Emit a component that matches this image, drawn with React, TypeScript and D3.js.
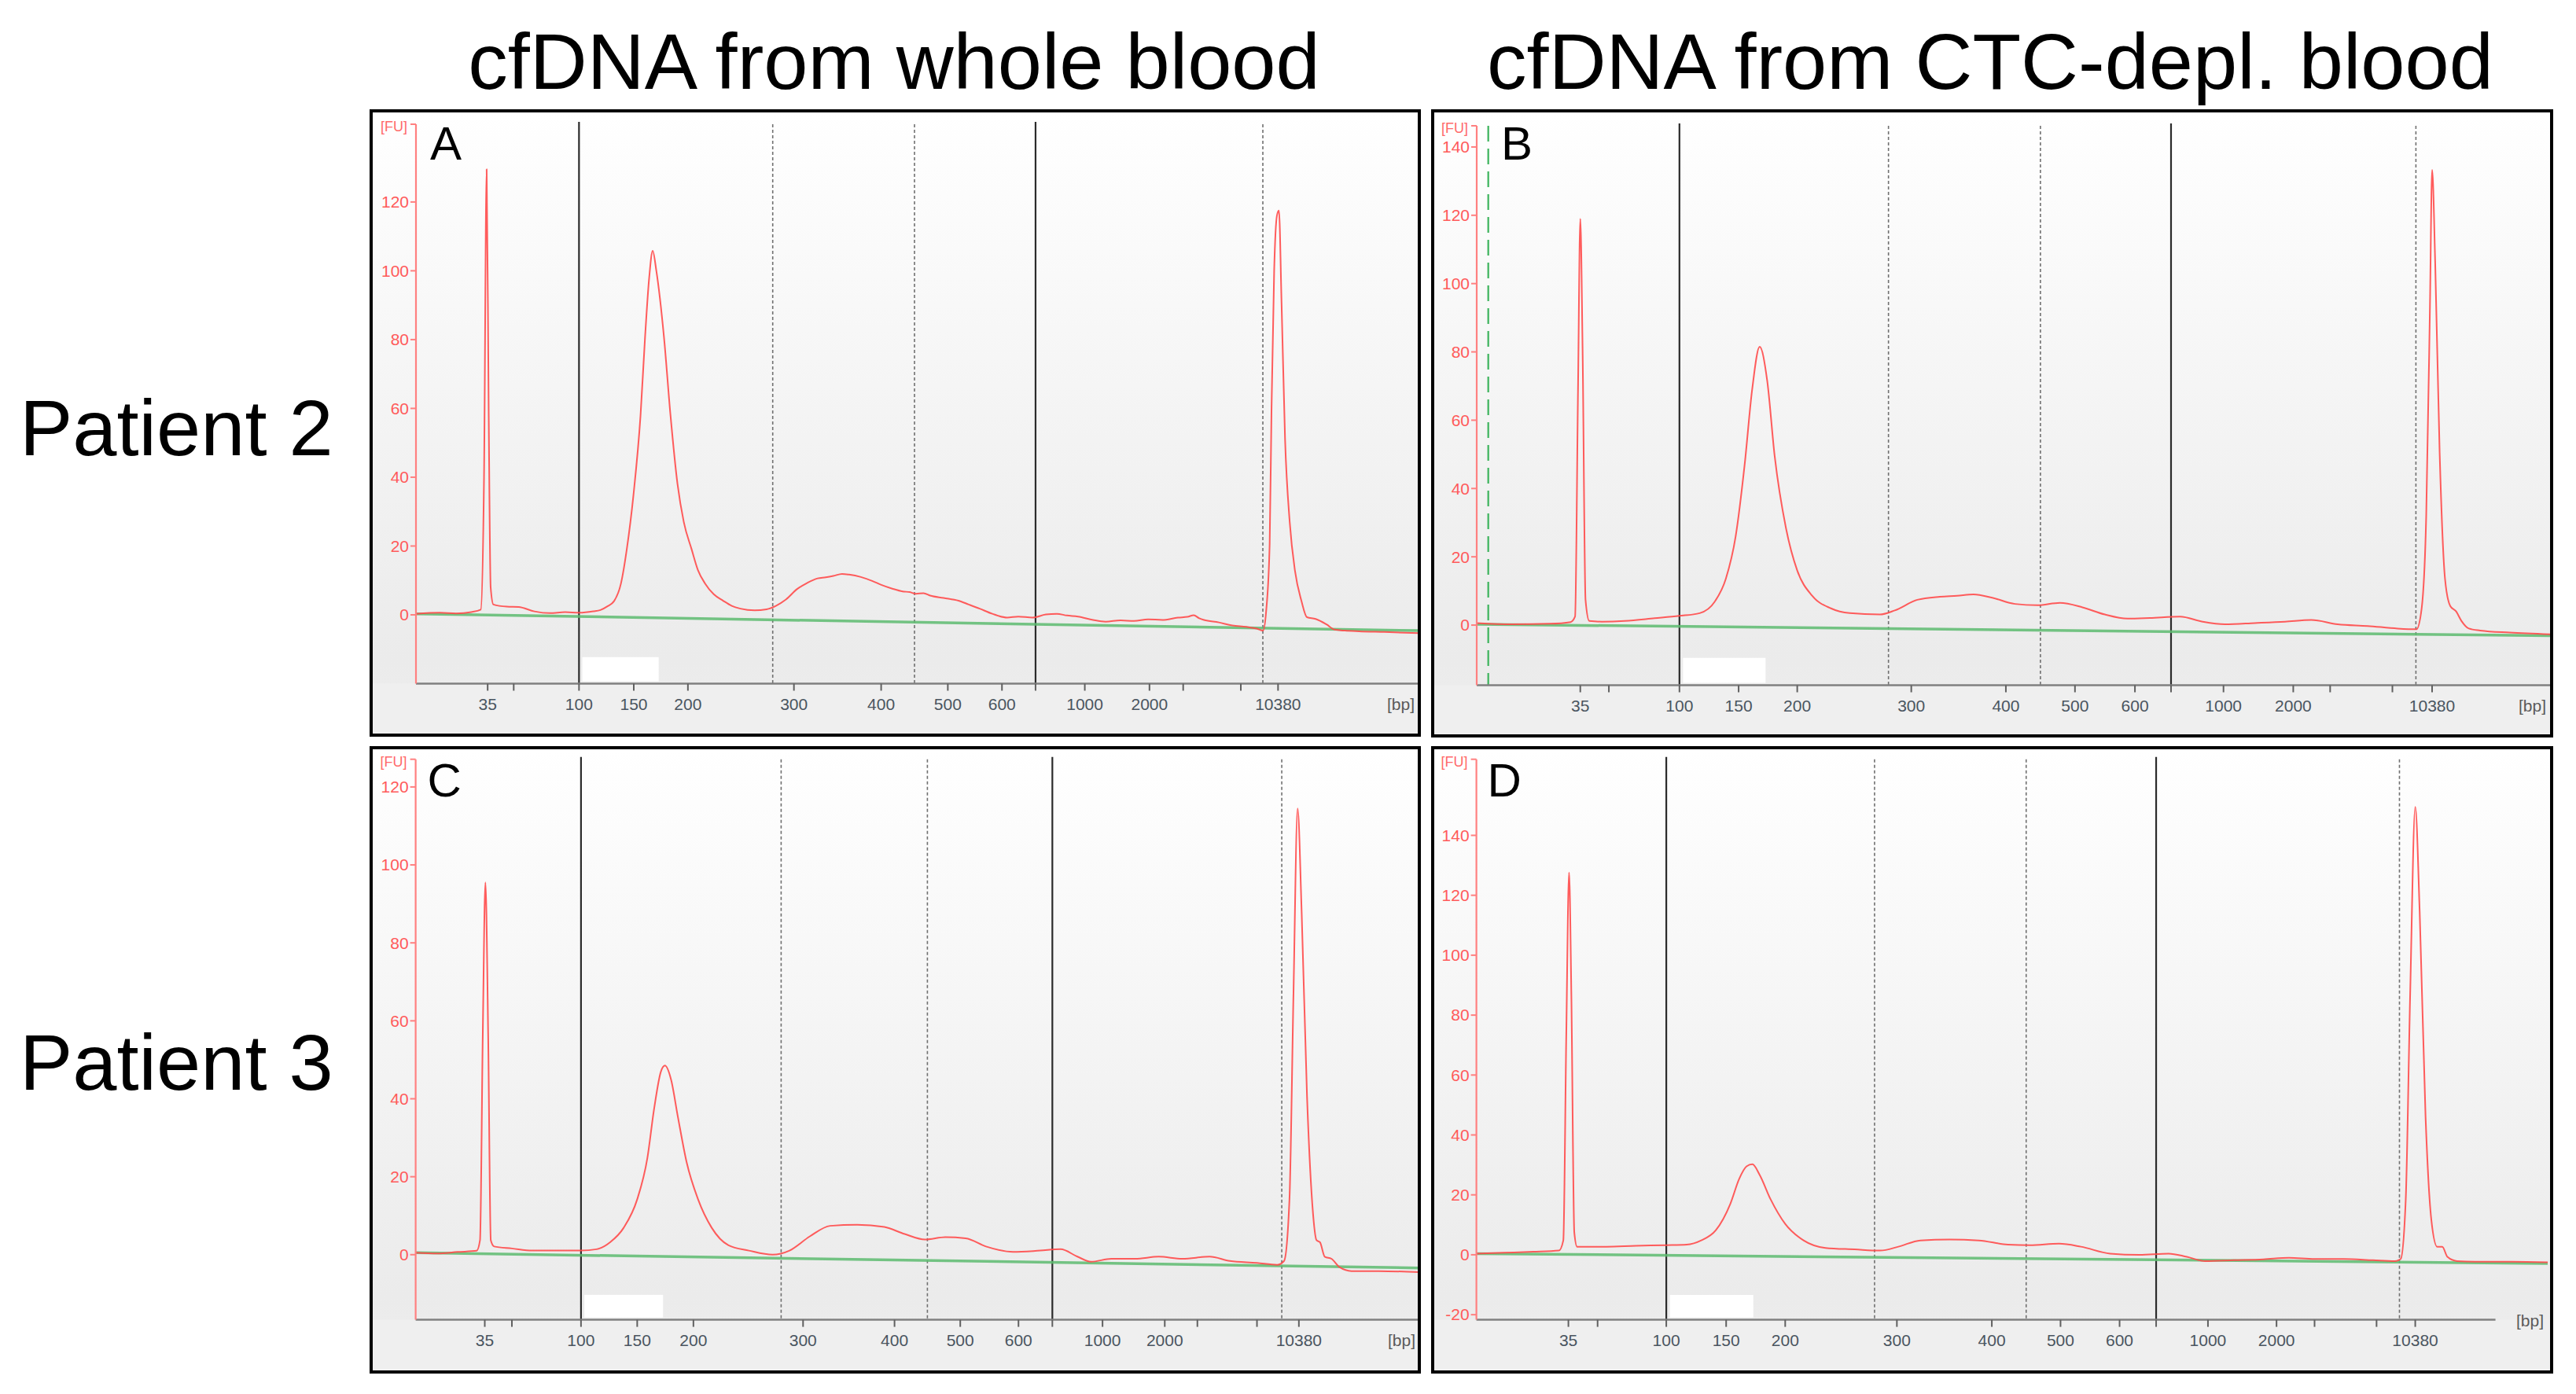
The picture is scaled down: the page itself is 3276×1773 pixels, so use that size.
import * as d3 from 'd3';

// Bioanalyzer HS DNA ladder (bp) and which ladder sizes get a printed label
const LADDER_BP = [35, 50, 100, 150, 200, 300, 400, 500, 600, 700, 1000, 2000, 3000, 7000, 10380];
const LABELED_BP = [35, 100, 150, 200, 300, 400, 500, 600, 1000, 2000, 10380];

// migration time window shown in every panel [s]
const TIME_DOMAIN: [number, number] = [40, 120];

// migration time of each ladder band per run [s]
const ladderTimesA = [45.72, 47.8, 53.01, 57.38, 61.7, 70.16, 77.12, 82.44, 86.76, 89.44, 93.37, 98.53, 101.22, 105.82, 108.79];
const ladderTimesB = [47.72, 49.85, 55.11, 59.52, 63.89, 72.39, 79.44, 84.59, 89.06, 91.75, 95.66, 100.86, 103.61, 108.25, 111.21];
const ladderTimesC = [45.51, 47.67, 53.18, 57.66, 62.14, 70.88, 78.17, 83.41, 88.05, 90.75, 94.75, 99.71, 102.31, 107.06, 110.4];
const ladderTimesD = [46.87, 49.05, 54.18, 58.65, 63.06, 71.4, 78.49, 83.62, 88.03, 90.76, 94.63, 99.75, 102.59, 107.22, 110.11];

// region markers (bp)
const solidMarkersBp = [100, 700];
const dashedMarkersBp = [280, 450, 9000];

// y ticks [FU]
const yTicksA = [0, 20, 40, 60, 80, 100, 120];
const yTicksB = [0, 20, 40, 60, 80, 100, 120, 140];
const yTicksC = [0, 20, 40, 60, 80, 100, 120];
const yTicksD = [-20, 0, 20, 40, 60, 80, 100, 120, 140];

// electropherograms: [time s, FU]
const traceA: [number, number][] = [
  [40, 0.3], [41.91, 0.6], [43.2, 0.4], [44.42, 0.8], [45.17, 1.5], [45.43, 40], [45.64, 129.5], [45.8, 60],
  [45.96, 8], [46.18, 3], [47.25, 2.4], [48.19, 2.3], [49.45, 1.0], [50.7, 0.5], [51.9, 0.8], [53.02, 0.6],
  [54.15, 1.0], [54.72, 1.4], [55.28, 2.5], [55.79, 3.9], [56.35, 9], [56.82, 19], [57.36, 35], [57.92, 58],
  [58.28, 80.7], [58.61, 98], [58.89, 105.8], [59.18, 100], [59.79, 80.7], [60.31, 58], [60.87, 38], [61.37, 27],
  [62.0, 19], [62.5, 13], [63.07, 9.1], [63.76, 6], [64.51, 4.1], [65.2, 2.6], [65.89, 1.8], [67.02, 1.3],
  [67.97, 1.6], [68.72, 2.6], [69.54, 4.5], [70.42, 7.5], [71.23, 9.3], [72.05, 10.6], [72.7, 10.9], [73.3, 11.3],
  [74.0, 11.9], [74.56, 11.7], [75.5, 11.0], [76.44, 9.8], [77.13, 8.7], [78.01, 7.6], [78.83, 6.8], [79.4, 6.6],
  [79.9, 6.1], [80.5, 6.3], [81.03, 5.6], [82.1, 4.9], [83.29, 4.1], [84.11, 3.0], [84.98, 1.8], [85.99, 0.3],
  [87.18, -0.8], [88.06, -0.5], [89.19, -0.8], [90.26, 0.1], [91.14, 0.3], [91.95, -0.2], [92.83, -0.5], [94.03, -1.5],
  [95.03, -2.0], [96.22, -1.6], [97.29, -1.8], [98.42, -1.3], [99.55, -1.5], [100.8, -0.8], [101.56, -0.6], [102.06, -0.1],
  [102.5, -1.0], [102.88, -1.5], [104.07, -2.2], [105.14, -3.1], [106.27, -3.5], [107.09, -4.0], [107.59, -4.6], [107.84, 1],
  [108.12, 20.5], [108.27, 60], [108.48, 100], [108.7, 116], [108.86, 117.5], [109.07, 90.7], [109.35, 51], [109.72, 27],
  [110.14, 12.8], [110.66, 4], [111.1, -0.7], [111.79, -1.2], [112.66, -2.8], [113.3, -4.3], [114.12, -4.6], [115.25, -4.8],
  [117.26, -5.0], [120, -5.3]
];

const traceB: [number, number][] = [
  [40, 0.6], [42.63, 0.25], [45.43, 0.4], [47.0, 0.9], [47.33, 2.5], [47.55, 69], [47.72, 119], [47.89, 81],
  [48.11, 7.4], [48.39, 1.2], [49.34, 1.0], [51.02, 1.2], [53.26, 2.0], [55.1, 2.7], [56.62, 3.5], [57.73, 6.8],
  [58.57, 13.6], [59.3, 26], [59.97, 47], [60.53, 69], [61.09, 81.5], [61.65, 71.6], [62.21, 49.4], [63.05, 28.4],
  [63.89, 16], [65.0, 8.6], [66.4, 4.9], [67.8, 3.5], [70.04, 3.1], [71.16, 4.3], [72.84, 7.4], [74.52, 8.3],
  [75.8, 8.6], [77.03, 9.0], [78.43, 8.0], [80.11, 6.2], [81.79, 5.8], [83.47, 6.5], [85.15, 5.2], [86.82, 3.1],
  [88.5, 1.9], [90.18, 2.1], [92.42, 2.5], [94.1, 1.0], [95.77, 0.25], [98.0, 0.6], [100.25, 1.0], [102.2, 1.5],
  [104.17, 0.25], [106.4, -0.25], [108.64, -1.0], [110.04, -1.2], [110.43, 4.9], [110.77, 32], [111.05, 93.8], [111.21, 133.3],
  [111.44, 106], [111.77, 50.6], [112.17, 13.6], [112.56, 5.6], [113.0, 4.0], [113.4, 1.2], [113.95, -1.0], [114.8, -1.6],
  [117.0, -2.2], [120, -2.7]
];

const traceC: [number, number][] = [
  [40, 0.5], [41.73, 0.3], [43.35, 0.7], [44.86, 1.0], [45.13, 3.7], [45.35, 56.5], [45.56, 95.5], [45.78, 56.5],
  [45.99, 3.7], [46.26, 2.1], [47.67, 1.6], [49.29, 1.05], [51.45, 1.05], [53.17, 1.05], [54.42, 1.4], [55.5, 3.2],
  [56.58, 6.9], [57.66, 14.2], [58.47, 24.8], [59.01, 37.5], [59.55, 47], [59.87, 48.5], [60.36, 44.9], [60.9, 35.4],
  [61.6, 23.7], [62.51, 14.2], [63.6, 6.9], [64.94, 2.4], [66.56, 1.05], [68.45, 0], [69.8, 1.05], [71.42, 4.7],
  [73.04, 7.4], [75.2, 7.7], [77.36, 7.1], [78.98, 5.3], [80.6, 3.9], [82.22, 4.5], [83.84, 4.2], [85.46, 2.1],
  [87.62, 0.7], [89.78, 1.05], [91.4, 1.4], [92.75, -0.5], [93.83, -1.8], [95.45, -1.05], [97.34, -1.05], [99.23, -0.5],
  [101.12, -1.05], [103.28, -0.5], [104.9, -1.6], [107.06, -2.1], [108.68, -2.6], [109.22, -1.6], [109.65, 14.2], [109.97, 67],
  [110.3, 114.5], [110.62, 88], [111.05, 40.6], [111.49, 12.1], [111.81, 3.7], [112.08, 3.2], [112.46, -0.5], [113.0, -1.05],
  [113.64, -3.2], [114.6, -4.2], [116.77, -4.2], [120, -4.5]
];

const traceD: [number, number][] = [
  [40, 0.4], [42.07, 0.7], [44.25, 1.0], [46.16, 1.4], [46.49, 4.8], [46.71, 73], [46.92, 127.6], [47.09, 87],
  [47.31, 7.5], [47.52, 2.7], [49.7, 2.7], [51.89, 3.0], [54.18, 3.2], [55.7, 3.4], [56.79, 4.8], [57.88, 8.2],
  [58.97, 17.1], [59.63, 25.4], [60.17, 29.5], [60.61, 30.2], [61.15, 26.7], [61.97, 18.5], [63.06, 10.3], [64.43, 4.8],
  [66.06, 2.3], [68.24, 1.8], [70.15, 1.4], [71.51, 2.7], [73.15, 4.8], [75.33, 5.1], [77.51, 4.8], [79.69, 3.4],
  [81.33, 3.2], [83.51, 3.7], [85.14, 2.7], [87.32, 0.4], [89.5, 0], [91.69, 0.4], [93.05, -0.7], [94.41, -2.1],
  [96.59, -1.8], [98.77, -1.5], [100.68, -1.0], [102.59, -1.4], [104.77, -1.4], [106.95, -1.8], [108.59, -2.1], [109.02, -1.4],
  [109.4, 18.5], [109.73, 87], [110.11, 149.5], [110.44, 114.5], [110.88, 46], [111.31, 11.7], [111.75, 2.7], [112.13, 2.7],
  [112.51, -0.7], [113.22, -2.1], [114.58, -2.3], [117.31, -2.3], [120, -2.5]
];

// fitted baselines: [time s, FU]
const baselineA: [number, number][] = [[40, 0.3], [120, -4.6]];
const baselineB: [number, number][] = [[40, 0.25], [120, -3.1]];
const baselineC: [number, number][] = [[40, 0.5], [120, -3.4]];
const baselineD: [number, number][] = [[40, 0.4], [120, -2.9]];

const columnTitles = ['cfDNA from whole blood', 'cfDNA from CTC-depl. blood'];
const rowTitles = ['Patient 2', 'Patient 3'];

const FONT = '"Liberation Sans", Arial, sans-serif';

interface PanelSpec {
  letter: string;
  frame: { x0: number; y0: number; x1: number; y1: number };
  plot: { left: number; right: number; top: number; bottom: number };
  yDomain: [number, number];
  yTicks: number[];
  ladderTimes: number[];
  trace: [number, number][];
  baseline: [number, number][];
  boxTop: number;
  letterDx: number;
  startMarker?: number;
  axisEnd?: number;
  bpOnAxis?: boolean;
}

const panels: PanelSpec[] = [
  {
    letter: 'A',
    frame: { x0: 472, y0: 141, x1: 1805, y1: 935 },
    plot: { left: 529, right: 1804, top: 158, bottom: 869.5 },
    yDomain: [-20, 142.6], yTicks: yTicksA, ladderTimes: ladderTimesA,
    trace: traceA, baseline: baselineA, boxTop: -12.3, letterDx: 18
  },
  {
    letter: 'B',
    frame: { x0: 1822, y0: 141, x1: 3245, y1: 936 },
    plot: { left: 1878, right: 3243, top: 160, bottom: 871.5 },
    yDomain: [-17.6, 146.2], yTicks: yTicksB, ladderTimes: ladderTimesB,
    trace: traceB, baseline: baselineB, boxTop: -9.6, letterDx: 31, startMarker: 40.86
  },
  {
    letter: 'C',
    frame: { x0: 472, y0: 951, x1: 1805, y1: 1745 },
    plot: { left: 528.6, right: 1805, top: 965.7, bottom: 1678.6 },
    yDomain: [-16.7, 127.1], yTicks: yTicksC, ladderTimes: ladderTimesC,
    trace: traceC, baseline: baselineC, boxTop: -10.3, letterDx: 15
  },
  {
    letter: 'D',
    frame: { x0: 1822, y0: 951, x1: 3245, y1: 1745 },
    plot: { left: 1877.6, right: 3240, top: 965.7, bottom: 1678.6 },
    yDomain: [-21.7, 165.4], yTicks: yTicksD, ladderTimes: ladderTimesD,
    trace: traceD, baseline: baselineD, boxTop: -13.4, letterDx: 14, axisEnd: 116.1, bpOnAxis: true
  }
];

function Panel({ p }: { p: PanelSpec }) {
  const x = d3.scaleLinear().domain(TIME_DOMAIN).range([p.plot.left, p.plot.right]);
  const y = d3.scaleLinear().domain(p.yDomain).range([p.plot.bottom, p.plot.top]);
  const bpToTime = d3.scaleLinear().domain(LADDER_BP).range(p.ladderTimes);
  const line = d3.line<[number, number]>().x(d => x(d[0])).y(d => y(d[1]));
  const smooth = d3.line<[number, number]>().x(d => x(d[0])).y(d => y(d[1])).curve(d3.curveMonotoneX);
  const gradId = `bg-${p.letter}`;
  const { x0, y0, x1, y1 } = p.frame;
  const axisRight = x(p.axisEnd ?? TIME_DOMAIN[1]);

  return (
    <g>
      <defs>
        <linearGradient id={gradId} x1="0" y1="0" x2="0" y2="1">
          <stop offset="0%" stopColor="#ffffff" />
          <stop offset="88%" stopColor="#ebebeb" />
          <stop offset="100%" stopColor="#eeeeee" />
        </linearGradient>
      </defs>
      <rect x={x0} y={y0} width={x1 - x0} height={y1 - y0} fill={`url(#${gradId})`} />
      <rect x={x0 + 2} y={p.plot.bottom} width={x1 - x0 - 4} height={y1 - p.plot.bottom - 2} fill="#efefef" />

      {/* white box left over on the original printout */}
      <rect
        x={x(bpToTime(103))}
        y={y(p.boxTop)}
        width={x(bpToTime(173)) - x(bpToTime(103))}
        height={p.plot.bottom - 3 - y(p.boxTop)}
        fill="#ffffff"
      />

      {/* region markers */}
      {dashedMarkersBp.map(bp => (
        <line key={`d${bp}`} x1={x(bpToTime(bp))} x2={x(bpToTime(bp))} y1={p.plot.top} y2={p.plot.bottom}
          stroke="#707070" strokeWidth={1.6} strokeDasharray="4 3" />
      ))}
      {solidMarkersBp.map(bp => (
        <line key={`s${bp}`} x1={x(bpToTime(bp))} x2={x(bpToTime(bp))} y1={p.plot.top - 3} y2={p.plot.bottom}
          stroke="#2b2b2b" strokeWidth={2.2} />
      ))}
      {p.startMarker !== undefined && (
        <line x1={x(p.startMarker)} x2={x(p.startMarker)} y1={p.plot.top} y2={p.plot.bottom}
          stroke="#3cb35c" strokeWidth={2.2} strokeDasharray="20 9" />
      )}

      {/* baseline and trace */}
      <path d={line(p.baseline) ?? ''} fill="none" stroke="#5dbb70" strokeWidth={3.5} strokeOpacity={0.85} />
      <path d={smooth(p.trace) ?? ''} fill="none" stroke="#ff4a4a" strokeWidth={2} strokeOpacity={0.9} strokeLinejoin="round" />

      {/* x axis */}
      <line x1={p.plot.left} x2={axisRight} y1={p.plot.bottom} y2={p.plot.bottom} stroke="#808080" strokeWidth={2.5} />
      {LADDER_BP.map(bp => {
        const tx = x(bpToTime(bp));
        return (
          <g key={`t${bp}`}>
            <line x1={tx} x2={tx} y1={p.plot.bottom} y2={p.plot.bottom + 9} stroke="#606060" strokeWidth={2} />
            {LABELED_BP.includes(bp) && (
              <text x={tx} y={p.plot.bottom + 33} textAnchor="middle" fontFamily={FONT} fontSize={21} fill="#4a5560">
                {bp}
              </text>
            )}
          </g>
        );
      })}
      <text
        x={p.plot.right - 5}
        y={p.bpOnAxis ? p.plot.bottom + 8 : p.plot.bottom + 33}
        textAnchor="end" fontFamily={FONT} fontSize={21} fill="#5a5a5a"
      >
        [bp]
      </text>

      {/* y axis */}
      <line x1={p.plot.left} x2={p.plot.left} y1={p.plot.top} y2={p.plot.bottom} stroke="#ff8080" strokeWidth={2.2} />
      <line x1={p.plot.left - 7} x2={p.plot.left} y1={p.plot.top} y2={p.plot.top} stroke="#ff8080" strokeWidth={2} />
      {p.yTicks.map(v => (
        <g key={`y${v}`}>
          <line x1={p.plot.left - 7} x2={p.plot.left} y1={y(v)} y2={y(v)} stroke="#ff8080" strokeWidth={2} />
          <text x={p.plot.left - 9} y={y(v)} dy="0.35em" textAnchor="end" fontFamily={FONT} fontSize={21} fill="#ff5a5a">
            {v}
          </text>
        </g>
      ))}
      <text x={p.plot.left - 11} y={p.plot.top + 9} textAnchor="end" fontFamily={FONT} fontSize={18} fill="#ff6a6a">
        [FU]
      </text>

      <text x={p.plot.left + p.letterDx} y={y0 + 62} fontFamily={FONT} fontSize={60} fill="#000">
        {p.letter}
      </text>

      <rect x={x0} y={y0} width={x1 - x0} height={y1 - y0} fill="none" stroke="#000" strokeWidth={4} />
    </g>
  );
}

export default function App() {
  return (
    <div style={{ position: 'absolute', left: 0, top: 0, background: '#fff' }}>
      <svg width={3276} height={1773} viewBox="0 0 3276 1773" style={{ display: 'block' }}>
        <rect x={0} y={0} width={3276} height={1773} fill="#ffffff" />
        <text x={1137} y={113} textAnchor="middle" fontFamily={FONT} fontSize={101} fill="#000">{columnTitles[0]}</text>
        <text x={2531} y={113} textAnchor="middle" fontFamily={FONT} fontSize={101} fill="#000">{columnTitles[1]}</text>
        <text x={25} y={579} fontFamily={FONT} fontSize={101} fill="#000">{rowTitles[0]}</text>
        <text x={25} y={1386} fontFamily={FONT} fontSize={101} fill="#000">{rowTitles[1]}</text>
        {panels.map(p => <Panel key={p.letter} p={p} />)}
      </svg>
    </div>
  );
}
